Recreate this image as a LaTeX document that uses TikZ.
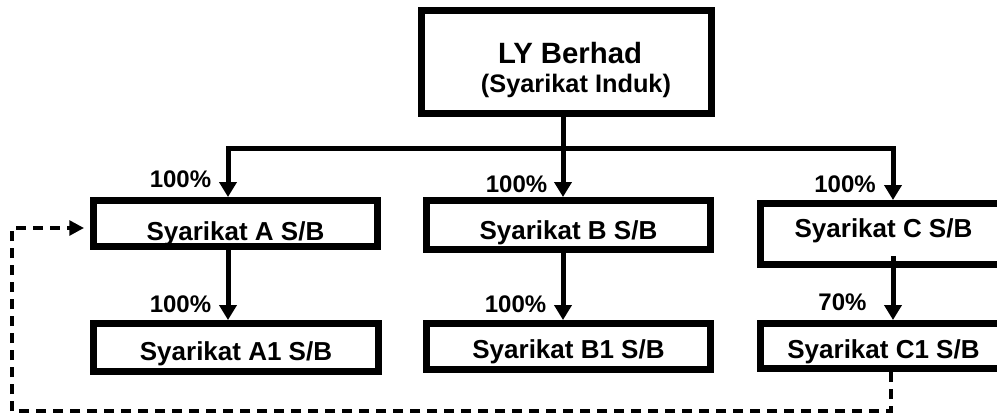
\documentclass[tikz,border=0pt]{standalone}
\usepackage{fontspec}
\setmainfont{Liberation Sans}
\usetikzlibrary{arrows.meta,calc}
\begin{document}
\begin{tikzpicture}[x=0.75pt,y=-0.75pt,
  box/.style={draw=black,line width=5pt,fill=white,inner sep=0pt,
    font=\bfseries\fontsize{19.5}{22}\selectfont,text depth=0pt},
  ttext/.style={anchor=base,inner sep=0pt},
  pct/.style={font=\bfseries\fontsize{18}{20}\selectfont,anchor=base,inner sep=0pt},
  conn/.style={line width=3.75pt},
  arr/.style={conn,-{Triangle[length=11.25pt,width=12.75pt]}},
  dasharr/.style={line width=2.6pt,dash pattern=on 7.5pt off 5.25pt,
    -{Triangle[length=11pt,width=11pt]}}]
\useasboundingbox (0,0) rectangle (997,414);
\clip (0,0) rectangle (997,414);
\fill[white] (0,0) rectangle (997,414);

% parent
\node[box,line width=5.25pt,minimum width=217.5pt,minimum height=77.25pt] (P) at (566.5,62) {};
\node[ttext,font=\bfseries\fontsize{22}{24}\selectfont] (P1) at (570,63) {LY Berhad};
\node[ttext,font=\bfseries\fontsize{19}{22}\selectfont] (P2) at (576,92) {(Syarikat Induk)};

% subsidiaries
\node[box,minimum width=213.2pt,minimum height=34.7pt,text height=24.75pt] (A) at (235.5,223.5) {Syarikat A S/B};
\node[box,minimum width=213.2pt,minimum height=37pt,text height=21pt] (B) at (568.5,225) {Syarikat B S/B};
\node[box,minimum width=184.7pt,minimum height=46pt,text height=4.5pt] (C) at (883.5,234) {Syarikat C S/B};
\node[box,minimum width=214pt,minimum height=36.2pt,text height=18.75pt] (A1) at (236,347.5) {Syarikat A1 S/B};
\node[box,minimum width=213.2pt,minimum height=34.7pt,text height=17.25pt] (B1) at (568.5,346.5) {Syarikat B1 S/B};
\node[box,minimum width=184.7pt,minimum height=34pt,text height=18pt] (C1) at (883.5,346) {Syarikat C1 S/B};

% connectors
\coordinate (J) at (563,148);
\coordinate (JA) at (228,148);
\coordinate (JC) at (893,148);
\draw[conn] (P.south -| J) -- (J);
\draw[arr] (J) -| (A.north -| JA);
\draw[arr] (J) -| (C.north -| JC);
\draw[arr] (J) -- (B.north -| J);
\draw[arr] (A.south -| JA) -- (A1.north -| JA);
\draw[arr] (B.south -| J) -- (B1.north -| J);
\draw[arr] ($(C.south -| JC)+(0,-12)$) -- (C1.north -| JC);

% dashed link
\coordinate (DL) at (12,411);
\draw[dasharr] (C1.south -| 891,0) |- (DL) |- ($(A.west)+(-6,4.5)$);

% percentages
\node[pct] (LA) at (180.5,187) {100\%};
\node[pct] (LB) at (516.5,192) {100\%};
\node[pct] (LC) at (845,192) {100\%};
\node[pct] (LA1) at (180.5,312) {100\%};
\node[pct] (LB1) at (515.5,312) {100\%};
\node[pct] (LC1) at (842.5,310) {70\%};
\end{tikzpicture}
\end{document}
